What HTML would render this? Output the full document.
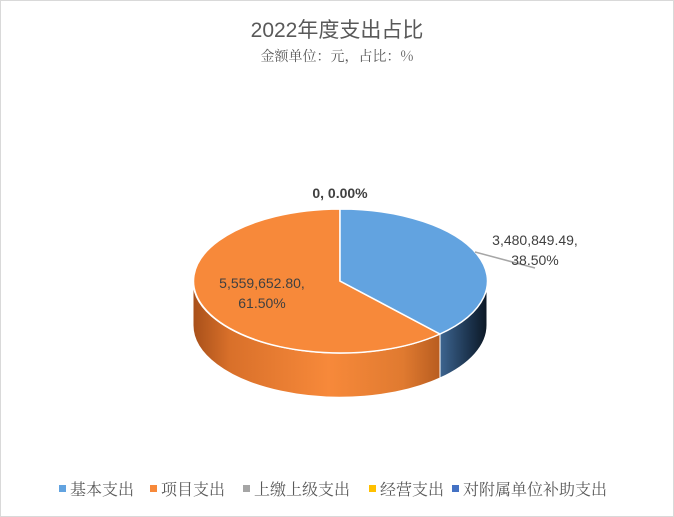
<!DOCTYPE html>
<html><head><meta charset="utf-8"><style>
body{margin:0;background:#fff;}
svg{display:block;font-family:"Liberation Sans","Noto Sans CJK SC",sans-serif;}
</style></head><body>
<svg width="674" height="517" viewBox="0 0 674 517">
<defs>
<linearGradient id="og" x1="0" x2="1" y1="0" y2="0">
<stop offset="0" stop-color="#a8501a"/><stop offset="0.15" stop-color="#d9702a"/><stop offset="0.55" stop-color="#f7893a"/><stop offset="0.85" stop-color="#e07a30"/><stop offset="1" stop-color="#b85d20"/>
</linearGradient>
<linearGradient id="bg" x1="0" x2="1" y1="0" y2="0">
<stop offset="0" stop-color="#3d6590"/><stop offset="0.6" stop-color="#1d3550"/><stop offset="1" stop-color="#0c1825"/>
</linearGradient>
</defs>
<rect x="0.5" y="0.5" width="673" height="516" fill="#fff" stroke="#d9d9d9"/>
<text x="337" y="37" text-anchor="middle" font-size="21" fill="#595959">2022年度支出占比</text>
<text x="337" y="61" text-anchor="middle" font-size="14" fill="#595959" font-family="'Noto Serif CJK SC',serif">金额单位：元，占比：%</text>
<path d="M193,281 A147,72 0 0 0 440,334 L440,378 A147,72 0 0 1 193,325 Z" fill="url(#og)" stroke="#fff" stroke-width="1"/>
<path d="M440,334 A147,72 0 0 0 487,281 L487,325 A147,72 0 0 1 440,378 Z" fill="url(#bg)" stroke="#fff" stroke-width="1"/>
<path d="M340,281 L440,334 A147,72 0 1 1 340,209 Z" fill="#f7893a" stroke="#fff" stroke-width="1.5"/>
<path d="M340,281 L340,209 A147,72 0 0 1 440,334 Z" fill="#62a3e0" stroke="#fff" stroke-width="1.5"/>
<line x1="475" y1="252" x2="535" y2="268" stroke="#a6a6a6" stroke-width="1.5"/>
<g font-size="14" fill="#404040">
<text x="340" y="198" text-anchor="middle" font-weight="bold">0, 0.00%</text>
<text x="535" y="245" text-anchor="middle">3,480,849.49,</text>
<text x="535" y="265" text-anchor="middle">38.50%</text>
<text x="262" y="288" text-anchor="middle">5,559,652.80,</text>
<text x="262" y="308" text-anchor="middle">61.50%</text>
</g>
<g font-size="16" fill="#595959" font-family="'Noto Serif CJK SC',serif">
<rect x="59" y="485" width="7" height="7" fill="#62a3e0"/><text x="70" y="495">基本支出</text>
<rect x="150" y="485" width="7" height="7" fill="#f7893a"/><text x="161" y="495">项目支出</text>
<rect x="243" y="485" width="7" height="7" fill="#a5a5a5"/><text x="254" y="495">上缴上级支出</text>
<rect x="369" y="485" width="7" height="7" fill="#ffc000"/><text x="380" y="495">经营支出</text>
<rect x="452" y="485" width="7" height="7" fill="#4472c4"/><text x="463" y="495">对附属单位补助支出</text>
</g>
</svg>
</body></html>
